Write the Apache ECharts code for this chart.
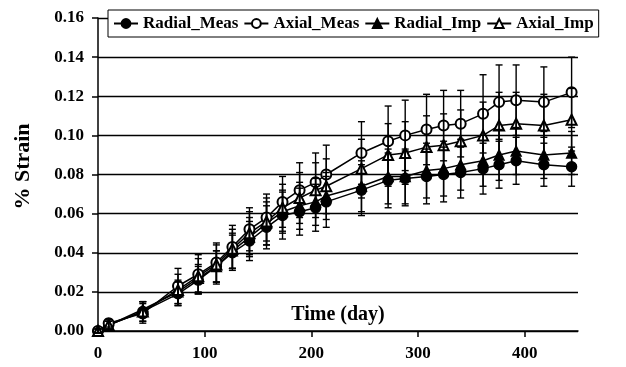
<!DOCTYPE html>
<html><head><meta charset="utf-8">
<script src="https://cdn.jsdelivr.net/npm/echarts@6/dist/echarts.min.js"></script>
<style>html,body{margin:0;padding:0;background:#fff}#c{width:626px;height:367px}</style>
</head><body><div id="c"></div>
<script>
// Time (day) of each measurement
const days = [0, 10, 42, 75, 94, 111, 126, 142, 158, 173, 189, 204, 214, 247, 272, 288, 308, 324, 340, 361, 376, 392, 418, 444];
// % strain means
const radialMeas = [0.000, 0.003, 0.010, 0.019, 0.026, 0.033, 0.040, 0.046, 0.053, 0.059, 0.061, 0.063, 0.066, 0.072, 0.077, 0.078, 0.079, 0.080, 0.081, 0.083, 0.085, 0.087, 0.085, 0.084];
const axialMeas  = [0.000, 0.004, 0.009, 0.023, 0.029, 0.035, 0.043, 0.052, 0.058, 0.066, 0.072, 0.076, 0.080, 0.091, 0.097, 0.100, 0.103, 0.105, 0.106, 0.111, 0.117, 0.118, 0.117, 0.122];
const radialImp  = [0.000, 0.003, 0.011, 0.020, 0.027, 0.033, 0.041, 0.048, 0.055, 0.061, 0.064, 0.066, 0.069, 0.074, 0.079, 0.079, 0.082, 0.083, 0.085, 0.087, 0.090, 0.092, 0.090, 0.091];
const axialImp   = [0.000, 0.003, 0.010, 0.021, 0.028, 0.034, 0.042, 0.050, 0.056, 0.063, 0.068, 0.072, 0.074, 0.083, 0.090, 0.091, 0.094, 0.095, 0.097, 0.100, 0.105, 0.106, 0.105, 0.108];
// error bar half-widths
const radialMeasErr = [0.001, 0.002, 0.005, 0.006, 0.007, 0.008, 0.009, 0.010, 0.011, 0.012, 0.012, 0.012, 0.013, 0.013, 0.014, 0.014, 0.014, 0.014, 0.013, 0.013, 0.012, 0.012, 0.011, 0.010];
const axialMeasErr  = [0.001, 0.002, 0.005, 0.009, 0.010, 0.010, 0.011, 0.011, 0.012, 0.013, 0.014, 0.015, 0.015, 0.016, 0.018, 0.018, 0.018, 0.018, 0.017, 0.020, 0.019, 0.018, 0.018, 0.018];
const radialImpErr  = [0.001, 0.002, 0.004, 0.006, 0.007, 0.008, 0.009, 0.010, 0.011, 0.011, 0.012, 0.012, 0.012, 0.013, 0.014, 0.014, 0.014, 0.014, 0.013, 0.013, 0.013, 0.012, 0.012, 0.011];
const axialImpErr   = [0.001, 0.002, 0.005, 0.008, 0.009, 0.010, 0.010, 0.011, 0.012, 0.012, 0.013, 0.014, 0.014, 0.015, 0.016, 0.016, 0.016, 0.016, 0.016, 0.017, 0.017, 0.016, 0.016, 0.016];
const seriesNames = ['Radial_Meas', 'Axial_Meas', 'Radial_Imp', 'Axial_Imp'];
const xTicks = [0, 100, 200, 300, 400];

const FONT = "'Liberation Serif','Times New Roman',serif";
const chart = echarts.init(document.getElementById('c'), null, {renderer: 'canvas'});

function errSeries(vals, errs) {
  return {
    type: 'custom', silent: true, z: 4, animation: false,
    data: days.map((d, i) => [d, vals[i] - errs[i], vals[i] + errs[i]]),
    encode: {x: 0, y: [1, 2]},
    renderItem: function (params, api) {
      const lo = api.coord([api.value(0), api.value(1)]);
      const hi = api.coord([api.value(0), api.value(2)]);
      const cw = 3.5;
      const st = {stroke: '#000', lineWidth: 1.4};
      return {type: 'group', children: [
        {type: 'line', shape: {x1: lo[0], y1: lo[1], x2: hi[0], y2: hi[1]}, style: st},
        {type: 'line', shape: {x1: lo[0] - cw, y1: lo[1], x2: lo[0] + cw, y2: lo[1]}, style: st},
        {type: 'line', shape: {x1: hi[0] - cw, y1: hi[1], x2: hi[0] + cw, y2: hi[1]}, style: st}
      ]};
    }
  };
}
function lineSeries(name, vals, symbol) {
  return {
    name: name, type: 'line', z: 3,
    data: days.map((d, i) => [d, vals[i]]),
    symbol: symbol, symbolSize: 10, showAllSymbol: true,
    itemStyle: {color: '#000', borderColor: '#000', borderWidth: 1.4},
    lineStyle: {color: '#000', width: 1.5},
    emphasis: {disabled: true}
  };
}

const option = {
  animation: false,
  backgroundColor: '#fff',
  grid: {left: 98, right: 48, top: 18, bottom: 36, containLabel: false, outerBoundsMode: 'none'},
  legend: {
    data: seriesNames,
    left: 108, top: 10,
    padding: [5, 5, 5, 5],
    itemGap: 5, itemWidth: 24, itemHeight: 11,
    borderColor: '#000', borderWidth: 1, borderRadius: 0,
    backgroundColor: '#fff',
    textStyle: {fontFamily: FONT, fontWeight: 'bold', fontSize: 17, color: '#000'},
    z: 10
  },
  xAxis: {
    type: 'value', min: 0, max: 450,
    name: 'Time (day)', nameLocation: 'middle', nameGap: -26, nameMoveOverlap: false,
    nameTextStyle: {fontFamily: FONT, fontWeight: 'bold', fontSize: 20, color: '#000'},
    axisLine: {show: true, onZero: false, lineStyle: {color: '#000', width: 1.5}},
    axisTick: {show: true, inside: false, length: 6, customValues: xTicks, lineStyle: {color: '#000', width: 1.5}},
    axisLabel: {customValues: xTicks, margin: 14, fontFamily: FONT, fontWeight: 'bold', fontSize: 17, color: '#000'},
    splitLine: {show: false}
  },
  yAxis: {
    type: 'value', min: 0, max: 0.16, interval: 0.02,
    name: '% Strain', nameLocation: 'middle', nameGap: 64, nameRotate: 90, nameMoveOverlap: false,
    nameTextStyle: {fontFamily: FONT, fontWeight: 'bold', fontSize: 22, color: '#000', padding: [0, 0, 0, 16]},
    axisLine: {show: true, lineStyle: {color: '#000', width: 1.5}},
    axisTick: {show: true, inside: false, length: 6, lineStyle: {color: '#000', width: 1.5}},
    axisLabel: {margin: 14, formatter: v => v.toFixed(2), fontFamily: FONT, fontWeight: 'bold', fontSize: 17, color: '#000'},
    splitLine: {show: true, lineStyle: {color: '#000', width: 1.3}}
  },
  series: [
    errSeries(radialMeas, radialMeasErr),
    errSeries(axialMeas, axialMeasErr),
    errSeries(radialImp, radialImpErr),
    errSeries(axialImp, axialImpErr),
    lineSeries('Radial_Meas', radialMeas, 'circle'),
    lineSeries('Axial_Meas', axialMeas, 'emptyCircle'),
    lineSeries('Radial_Imp', radialImp, 'triangle'),
    lineSeries('Axial_Imp', axialImp, 'emptyTriangle')
  ]
};
chart.setOption(option);
</script>
</body></html>
